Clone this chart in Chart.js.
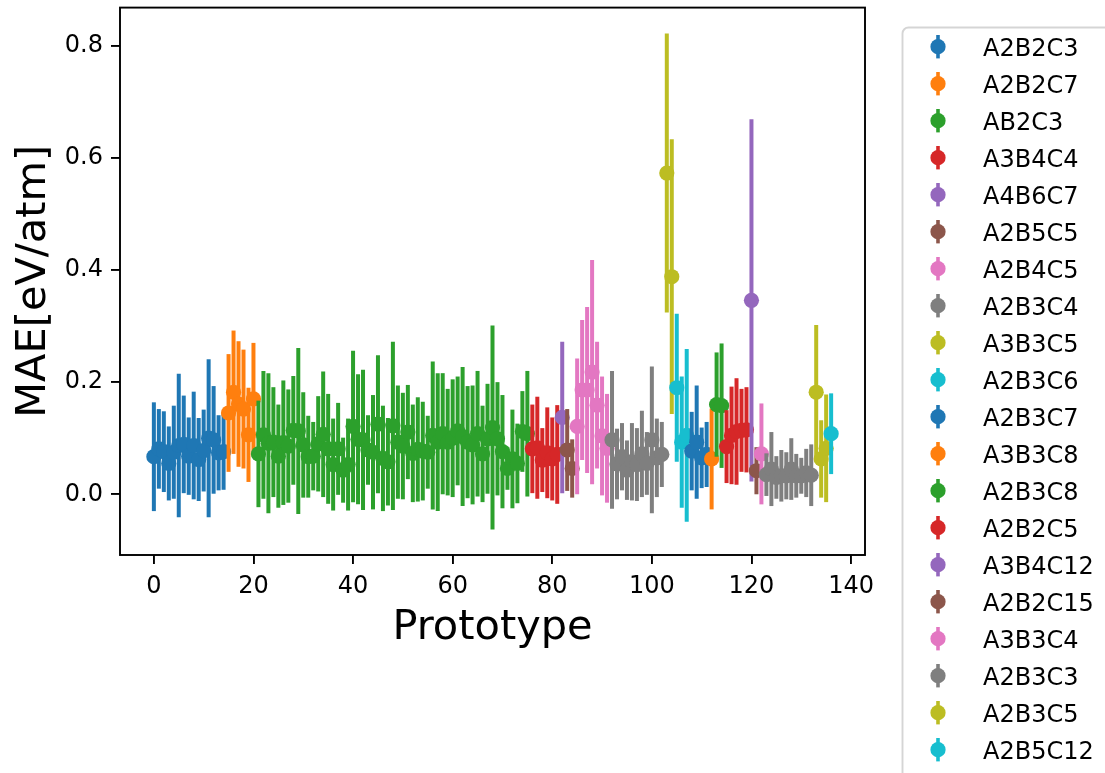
<!DOCTYPE html>
<html>
<head>
<meta charset="utf-8">
<script src="https://cdn.jsdelivr.net/npm/chart.js@4/dist/chart.umd.min.js"></script>
<style>
  html, body { margin: 0; padding: 0; background: #fff; overflow: hidden; }
  canvas { display: block; }
</style>
</head>
<body>
<canvas id="chart" width="1105" height="773"></canvas>
<script>
// prototype families, in the order they appear along the x axis
const families = ['A2B2C3', 'A2B2C7', 'AB2C3', 'A3B4C4', 'A4B6C7', 'A2B5C5', 'A2B4C5', 'A2B3C4', 'A3B3C5', 'A2B3C6',
                  'A2B3C7', 'A3B3C8', 'A2B3C8', 'A2B2C5', 'A3B4C12', 'A2B2C15', 'A3B3C4', 'A2B3C3', 'A2B3C5', 'A2B5C12'];
// number of prototypes in each family
const familySizes = [15, 6, 55, 6, 1, 2, 7, 11, 2, 3, 4, 1, 2, 5, 1, 1, 1, 10, 3, 1];

// mean MAE per prototype (index = prototype number)
const mae = [
  0.067, 0.081, 0.076, 0.055, 0.075, 0.087, 0.089, 0.068, 0.087, 0.062, 0.078, 0.100, 0.097, 0.074, 0.076,
  0.145, 0.182, 0.161, 0.152, 0.106, 0.170,
  0.072, 0.106, 0.091, 0.093, 0.068, 0.092, 0.086, 0.114, 0.113, 0.088, 0.067, 0.068, 0.090, 0.107, 0.081,
  0.053, 0.081, 0.043, 0.053, 0.121, 0.098, 0.097, 0.079, 0.075, 0.125, 0.064, 0.058, 0.122, 0.093, 0.086,
  0.111, 0.073, 0.080, 0.077, 0.075, 0.105, 0.093, 0.108, 0.093, 0.100, 0.113, 0.103, 0.093, 0.088, 0.108,
  0.072, 0.099, 0.119, 0.099, 0.076, 0.046, 0.063, 0.055, 0.112, 0.108,
  0.081, 0.083, 0.061, 0.074, 0.063, 0.071,
  0.137,
  0.079, 0.046,
  0.121, 0.186, 0.186, 0.218, 0.159, 0.104, 0.082,
  0.097, 0.054, 0.067, 0.043, 0.058, 0.053, 0.072, 0.055, 0.097, 0.065, 0.071,
  0.573, 0.388,
  0.190, 0.093, 0.105,
  0.077, 0.093, 0.065, 0.071,
  0.063,
  0.160, 0.158,
  0.085, 0.105, 0.112, 0.114, 0.115,
  0.346,
  0.042,
  0.072,
  0.035, 0.045, 0.030, 0.033, 0.033, 0.045, 0.033, 0.033, 0.038, 0.034,
  0.182, 0.063, 0.082,
  0.108
];

// standard deviation of the MAE per prototype
const maeStd = [
  0.097, 0.071, 0.072, 0.066, 0.083, 0.128, 0.087, 0.069, 0.096, 0.074, 0.073, 0.141, 0.096, 0.067, 0.068,
  0.105, 0.110, 0.112, 0.106, 0.084, 0.100,
  0.095, 0.114, 0.125, 0.098, 0.092, 0.111, 0.101, 0.097, 0.148, 0.094, 0.073, 0.061, 0.085, 0.112, 0.098,
  0.082, 0.082, 0.058, 0.082, 0.135, 0.116, 0.125, 0.062, 0.102, 0.123, 0.094, 0.078, 0.150, 0.101, 0.095,
  0.084, 0.087, 0.093, 0.088, 0.065, 0.132, 0.123, 0.108, 0.095, 0.105, 0.097, 0.124, 0.100, 0.106, 0.112,
  0.086, 0.098, 0.182, 0.101, 0.101, 0.038, 0.088, 0.071, 0.072, 0.112,
  0.079, 0.091, 0.057, 0.081, 0.074, 0.088,
  0.135,
  0.073, 0.052,
  0.121, 0.125, 0.148, 0.200, 0.113, 0.106, 0.097,
  0.123, 0.063, 0.060, 0.053, 0.069, 0.065, 0.077, 0.056, 0.131, 0.070, 0.058,
  0.249, 0.245,
  0.132, 0.117, 0.154,
  0.070, 0.101, 0.054, 0.058,
  0.090,
  0.093, 0.111,
  0.065, 0.087, 0.095, 0.074, 0.076,
  0.323,
  0.042,
  0.090,
  0.038, 0.066, 0.038, 0.046, 0.042, 0.055, 0.039, 0.032, 0.043, 0.055,
  0.120, 0.069, 0.096,
  0.072
];

const xTicks = [0, 20, 40, 60, 80, 100, 120, 140];
const yTicks = [0.0, 0.2, 0.4, 0.6, 0.8];

// matplotlib tab10 cycle
const palette = ['#1f77b4', '#ff7f0e', '#2ca02c', '#d62728', '#9467bd',
                 '#8c564b', '#e377c2', '#7f7f7f', '#bcbd22', '#17becf'];

const FONT = 'DejaVu Sans';
Chart.defaults.font.family = FONT;
Chart.defaults.color = '#000';

const MARKER_R = 7.6;
const BAR_W = 4.0;

// split the prototypes into one dataset per family
let start = 0;
const datasets = families.map((name, i) => {
  const pts = [];
  for (let k = start; k < start + familySizes[i]; k++) {
    pts.push({ x: k, y: mae[k], err: maeStd[k] });
  }
  start += familySizes[i];
  const col = palette[i % palette.length];
  return {
    label: name,
    data: pts,
    backgroundColor: col,
    borderColor: col,
    borderWidth: 0,
    pointRadius: MARKER_R,
    pointHoverRadius: MARKER_R,
    order: -i   // later families drawn on top
  };
});

// vertical error bars, drawn right before each family's markers
const errorBars = {
  id: 'errorBars',
  beforeDatasetDraw(chart, args) {
    const ds = chart.data.datasets[args.index];
    const xs = chart.scales.x, ys = chart.scales.y;
    const ctx = chart.ctx;
    ctx.save();
    ctx.strokeStyle = ds.borderColor;
    ctx.lineWidth = BAR_W;
    ds.data.forEach(p => {
      const px = xs.getPixelForValue(p.x);
      ctx.beginPath();
      ctx.moveTo(px, ys.getPixelForValue(p.y - p.err));
      ctx.lineTo(px, ys.getPixelForValue(p.y + p.err));
      ctx.stroke();
    });
    ctx.restore();
  }
};

// black frame round the plot area
const frame = {
  id: 'frame',
  afterDatasetsDraw(chart) {
    const { left, top, right, bottom } = chart.chartArea;
    const ctx = chart.ctx;
    ctx.save();
    ctx.strokeStyle = '#000';
    ctx.lineWidth = 1.9;
    ctx.strokeRect(left, top, right - left, bottom - top);
    ctx.restore();
  }
};

// legend box on the right: marker with error bar, then family name
const legendBox = {
  id: 'legendBox',
  afterDraw(chart) {
    const ctx = chart.ctx;
    const boxLeft = 902.5, boxTop = 27.5, firstRow = 46.7, rowGap = 37.0;
    ctx.save();
    ctx.fillStyle = '#fff';
    ctx.strokeStyle = '#d5d5d5';
    ctx.lineWidth = 1.9;
    ctx.beginPath();
    ctx.roundRect(boxLeft, boxTop, 260, 800, 6);
    ctx.fill();
    ctx.stroke();
    ctx.font = '24px "' + FONT + '"';
    ctx.textBaseline = 'alphabetic';
    ctx.textAlign = 'left';
    chart.data.datasets.forEach((ds, i) => {
      const y = firstRow + i * rowGap;
      ctx.strokeStyle = ds.borderColor;
      ctx.fillStyle = ds.backgroundColor;
      ctx.lineWidth = 3.6;
      ctx.beginPath();
      ctx.moveTo(938, y - 11.7);
      ctx.lineTo(938, y + 11.7);
      ctx.stroke();
      ctx.beginPath();
      ctx.arc(938, y, MARKER_R, 0, Math.PI * 2);
      ctx.fill();
      ctx.fillStyle = '#000';
      ctx.fillText(ds.label, 983, y + 9.5);
    });
    ctx.restore();
  }
};

new Chart(document.getElementById('chart'), {
  type: 'scatter',
  data: { datasets: datasets },
  plugins: [errorBars, frame, legendBox],
  options: {
    responsive: false,
    animation: false,
    devicePixelRatio: 1,
    layout: { padding: { left: 0, top: 5, right: 240, bottom: 0 } },
    plugins: {
      legend: { display: false },
      tooltip: { enabled: false }
    },
    scales: {
      x: {
        type: 'linear',
        min: -6.8,
        max: 142.8,
        afterBuildTicks: s => { s.ticks = xTicks.map(v => ({ value: v })); },
        afterFit: s => { s.height = 218; s.paddingLeft = 0; s.paddingRight = 0; },
        ticks: { font: { size: 24 }, padding: 8, maxRotation: 0, callback: v => String(v) },
        grid: { display: true, drawOnChartArea: false, drawTicks: true, tickLength: 9, color: '#000', lineWidth: 1.9 },
        border: { display: false },
        title: { display: true, text: 'Prototype', font: { size: 41.5 }, padding: { top: 0, bottom: 120 } }
      },
      y: {
        type: 'linear',
        min: -0.1083,
        max: 0.868,
        afterBuildTicks: s => { s.ticks = yTicks.map(v => ({ value: v })); },
        afterFit: s => { s.width = 120; s.paddingTop = 0; s.paddingBottom = 0; },
        ticks: { font: { size: 24 }, padding: 8, callback: v => v.toFixed(1) },
        grid: { display: true, drawOnChartArea: false, drawTicks: true, tickLength: 9, color: '#000', lineWidth: 1.9 },
        border: { display: false },
        title: { display: true, text: 'MAE[eV/atm]', font: { size: 41.5 }, padding: { top: 9, bottom: 0 } }
      }
    }
  }
});
</script>
</body>
</html>
